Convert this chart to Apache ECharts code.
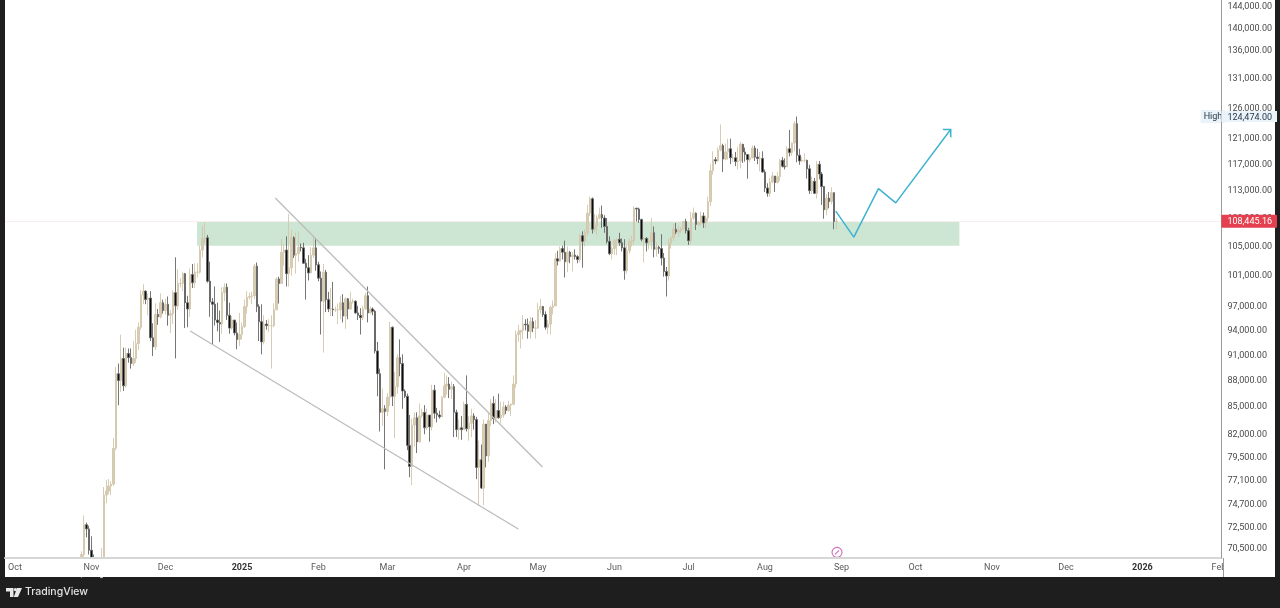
<!DOCTYPE html>
<html><head><meta charset="utf-8">
<style>html,body{margin:0;padding:0;background:#1e1e1e}#c{width:1280px;height:608px}</style>
<script src="https://cdn.jsdelivr.net/npm/echarts@6/dist/echarts.min.js"></script>
</head><body><div id="c"></div>
<script>
// Daily candles in thousands of USD: [open, close, low, high]
const oct24=[[68.0,69.9,67.8,70.2],[69.9,72.7,69.5,73.6],[72.7,72.3,71.5,72.9],[72.3,70.3,69.9,72.6]];
const nov24=[[70.3,69.5,68.8,71.6],[69.5,69.3,68.9,69.9],[69.3,68.7,67.8,69.4],[68.7,67.8,67.8,69.4],[67.8,69.3,67.8,70.5],[69.3,75.6,68.8,76.4],[75.6,76.0,74.8,77.1],[76.0,76.5,75.7,77.2],[76.5,76.7,75.6,77.0],[76.7,80.4,76.5,81.5],[80.4,88.7,80.2,89.5],[88.7,87.9,85.1,89.9],[87.9,90.5,86.6,93.4],[90.5,87.3,86.7,91.8],[87.3,91.1,87.1,91.8],[91.1,90.6,90.0,91.7],[90.6,89.9,89.3,91.7],[89.9,90.5,89.6,92.6],[90.5,92.3,90.0,94.0],[92.3,94.3,91.5,94.9],[94.3,98.4,94.0,99.0],[98.4,98.9,97.2,99.8],[98.9,97.8,97.2,99.0],[97.8,98.0,95.8,98.6],[98.0,93.0,92.6,98.9],[93.0,91.9,90.8,94.8],[91.9,95.9,91.5,97.3],[95.9,95.6,94.6,96.6],[95.6,97.4,95.4,98.6],[97.4,96.4,96.0,97.8]];
const dec24=[[96.4,97.2,95.9,97.9],[97.2,95.8,94.5,98.2],[95.8,96.0,93.6,96.5],[96.0,98.7,94.7,99.0],[98.7,97.0,90.5,103.4],[97.0,99.9,96.5,101.8],[99.9,99.9,99.4,100.6],[99.9,101.2,98.9,101.4],[101.2,97.4,94.2,101.3],[97.4,96.6,94.3,98.3],[96.6,101.1,95.6,101.9],[101.1,100.0,99.3,102.5],[100.0,101.4,99.3,102.6],[101.4,101.4,100.7,102.6],[101.4,104.4,101.2,105.0],[104.4,106.0,103.4,107.8],[106.0,106.1,105.3,108.3],[106.1,100.2,100.0,106.5],[100.2,97.5,95.6,102.8],[97.5,97.2,92.2,98.0],[97.2,95.2,94.5,99.5],[95.2,94.9,93.8,97.4],[94.9,94.7,92.5,96.4],[94.7,98.7,93.5,99.4],[98.7,99.4,97.6,99.9],[99.4,95.8,95.2,99.9],[95.8,94.2,93.5,97.4],[94.2,95.2,94.0,95.7],[95.2,93.6,93.3,95.2],[93.6,92.8,91.6,94.9],[92.8,93.4,92.0,96.1]];
const jan25=[[93.4,94.4,92.8,94.9],[94.4,96.9,94.2,97.8],[96.9,98.1,96.0,98.9],[98.1,98.2,97.8,98.7],[98.2,98.3,97.2,98.8],[98.3,102.2,97.9,102.5],[102.2,96.9,96.2,102.7],[96.9,95.0,92.6,97.2],[95.0,92.5,91.0,97.2],[92.5,94.7,92.2,95.8],[94.7,94.5,94.0,95.2],[94.5,94.5,93.7,95.3],[94.5,94.5,89.3,95.8],[94.5,96.5,94.3,97.3],[96.5,100.5,96.5,100.7],[100.5,99.9,97.3,100.8],[99.9,104.1,99.9,105.9],[104.1,104.4,102.3,105.2],[104.4,101.2,99.5,106.3],[101.2,102.0,99.5,109.5],[102.0,106.1,100.9,107.2],[106.1,103.7,103.3,106.3],[103.7,103.9,101.2,106.8],[103.9,104.8,102.8,107.0],[104.8,104.7,104.2,105.3],[104.7,102.6,102.5,105.4],[102.6,102.0,97.8,103.2],[102.0,101.3,100.3,103.7],[101.3,103.7,101.3,104.8],[103.7,104.7,103.3,106.4],[104.7,102.4,101.6,106.0]];
const feb25=[[102.4,100.6,100.2,102.8],[100.6,97.6,93.4,101.5],[97.6,101.4,91.2,102.5],[101.4,97.8,96.2,101.7],[97.8,96.6,96.2,98.8],[96.6,96.6,95.7,99.3],[96.6,96.5,95.7,100.1],[96.5,96.5,96.2,96.9],[96.5,96.5,94.7,97.3],[96.5,97.4,95.3,98.3],[97.4,95.7,94.9,98.5],[95.7,97.9,94.1,98.1],[97.9,96.6,95.3,98.0],[96.6,97.5,96.5,98.8],[97.5,97.6,97.3,97.9],[97.6,96.1,96.0,97.7],[96.1,95.8,95.2,97.0],[95.8,95.5,93.4,96.7],[95.5,96.6,95.2,97.0],[96.6,98.3,96.5,98.7],[98.3,96.1,94.9,99.5],[96.1,96.6,96.0,96.9],[96.6,96.3,95.8,96.8],[96.3,91.4,91.1,96.5],[91.4,88.7,86.1,92.5],[88.7,84.3,82.2,89.3],[84.3,84.7,82.8,87.0],[84.7,84.4,78.2,85.1]];
const mar25=[[84.4,86.0,83.9,86.5],[86.0,94.3,85.0,95.0],[94.3,86.1,85.0,94.4],[86.1,87.2,81.5,88.9],[87.2,90.6,86.4,91.0],[90.6,89.9,88.4,92.8],[89.9,86.7,84.7,91.0],[86.7,86.1,85.9,86.9],[86.1,80.7,80.2,86.4],[80.7,78.5,77.4,84.0],[78.5,82.9,76.6,83.6],[82.9,83.7,80.6,84.3],[83.7,81.1,79.9,84.3],[81.1,83.9,81.0,85.3],[83.9,84.3,83.7,84.7],[84.3,82.6,81.9,85.1],[82.6,84.0,82.4,84.7],[84.0,82.7,81.1,84.0],[82.7,86.8,82.3,87.4],[86.8,84.2,83.6,87.4],[84.2,84.0,83.2,84.8],[84.0,83.8,83.6,84.5],[83.8,86.0,83.8,86.1],[86.0,87.3,85.9,88.8],[87.3,87.5,86.3,88.5],[87.5,86.9,85.9,88.3],[86.9,87.2,85.8,87.8],[87.2,84.3,81.6,87.5],[84.3,82.4,81.6,84.6],[82.4,82.6,81.3,83.5],[82.6,82.4,81.3,83.9]];
const apr25=[[82.4,85.2,82.4,85.5],[85.2,82.5,82.2,88.5],[82.5,83.1,81.2,83.9],[83.1,83.9,81.6,84.7],[83.9,83.5,82.4,84.2],[83.5,78.4,77.2,83.8],[78.4,79.2,74.5,81.2],[79.2,76.3,76.2,80.8],[76.3,83.0,74.6,83.5],[83.0,79.6,78.4,83.0],[79.6,83.4,79.0,84.2],[83.4,85.3,82.8,85.8],[85.3,83.6,83.0,86.1],[83.6,84.5,83.2,85.8],[84.5,83.7,83.6,86.4],[83.7,84.0,83.1,85.5],[84.0,84.9,83.7,85.5],[84.9,84.5,84.1,85.1],[84.5,85.1,84.4,85.6],[85.1,85.2,83.9,85.3],[85.2,87.5,85.1,88.5],[87.5,93.4,87.1,93.9],[93.4,93.7,92.5,94.6],[93.7,93.9,91.7,94.0],[93.9,94.7,92.8,95.8],[94.7,94.6,93.9,95.3],[94.6,93.8,92.9,95.4],[93.8,95.0,92.9,95.6],[95.0,94.2,93.7,95.5],[94.2,94.2,92.9,95.2]];
const may25=[[94.2,96.5,94.1,97.4],[96.5,96.9,96.0,97.9],[96.9,95.9,95.6,97.0],[95.9,94.3,94.0,96.3],[94.3,94.7,93.5,95.2],[94.7,96.8,93.4,97.0],[96.8,97.0,95.9,97.7],[97.0,103.2,97.0,104.0],[103.2,102.9,102.3,104.3],[102.9,104.6,102.8,104.9],[104.6,104.1,103.1,105.0],[104.1,102.8,100.7,105.7],[102.8,104.1,101.4,104.9],[104.1,103.5,102.6,104.3],[103.5,103.7,101.5,104.1],[103.7,103.5,103.1,104.5],[103.5,103.1,102.6,103.7],[103.1,106.4,102.7,106.6],[106.4,105.6,102.0,107.0],[105.6,106.8,104.9,107.3],[106.8,109.6,106.3,110.8],[109.6,111.7,109.2,112.0],[111.7,107.3,106.7,111.9],[107.3,107.8,106.9,109.5],[107.8,108.9,106.5,109.3],[108.9,109.4,108.7,110.4],[109.4,108.9,107.5,110.7],[108.9,107.7,106.8,109.3],[107.7,105.6,105.3,108.9],[105.6,103.9,103.7,106.3],[103.9,104.6,103.1,104.9]];
const jun25=[[104.6,105.7,103.7,105.9],[105.7,105.9,103.7,106.0],[105.9,105.4,105.0,106.8],[105.4,104.7,104.2,106.0],[104.7,101.6,100.4,105.9],[101.6,104.3,101.2,105.0],[104.3,105.6,103.9,106.0],[105.6,105.7,104.9,106.4],[105.7,110.3,105.1,110.6],[110.3,110.2,108.4,110.4],[110.2,108.7,108.2,110.4],[108.7,105.9,105.6,108.8],[105.9,106.0,102.7,106.2],[106.0,105.4,104.2,106.2],[105.4,105.6,104.5,106.1],[105.6,106.8,104.5,108.9],[106.8,104.5,103.4,107.7],[104.5,104.8,103.5,105.5],[104.8,104.6,103.9,105.0],[104.6,103.3,102.3,106.6],[103.3,101.5,100.8,104.0],[101.5,100.9,98.2,102.1],[100.9,105.4,100.3,106.0],[105.4,106.1,104.6,106.3],[106.1,107.3,105.6,108.1],[107.3,106.9,106.6,108.2],[106.9,107.1,106.2,107.8],[107.1,107.3,106.8,107.6],[107.3,108.4,107.2,108.5],[108.4,107.1,106.7,108.8]];
const jul25=[[107.1,105.7,105.1,107.5],[105.7,108.9,105.2,109.8],[108.9,109.6,108.6,110.4],[109.6,108.0,107.2,109.7],[108.0,108.2,107.8,108.5],[108.2,109.2,107.8,109.8],[109.2,108.2,107.5,109.7],[108.2,108.9,107.5,109.2],[108.9,111.3,108.4,112.0],[111.3,115.9,110.6,116.9],[115.9,117.6,115.3,118.9],[117.6,117.4,116.9,118.0],[117.4,119.1,117.3,119.5],[119.1,119.8,118.9,123.2],[119.8,117.7,115.7,120.1],[117.7,118.8,117.5,120.1],[118.8,119.3,117.6,120.9],[119.3,117.9,116.9,120.9],[117.9,117.9,117.3,118.5],[117.9,117.3,116.6,118.8],[117.3,117.4,116.1,119.6],[117.4,120.0,116.3,120.4],[120.0,118.8,117.1,120.1],[118.8,118.4,117.3,119.5],[118.4,117.6,114.7,118.5],[117.6,117.9,117.2,118.4],[117.9,119.4,117.8,119.8],[119.4,118.0,117.4,119.8],[118.0,117.8,116.9,119.3],[117.8,117.8,115.8,118.8],[117.8,115.7,115.6,118.9]];
const aug25=[[115.7,113.3,112.7,116.1],[113.3,112.5,112.0,114.0],[112.5,114.2,112.0,114.8],[114.2,115.1,114.0,115.7],[115.1,114.1,112.7,115.1],[114.1,115.0,114.0,115.7],[115.0,117.5,114.3,117.7],[117.5,116.6,116.4,118.0],[116.6,116.5,116.1,117.8],[116.5,119.3,116.5,119.7],[119.3,118.7,118.1,122.3],[118.7,120.2,118.2,120.3],[120.2,123.3,118.9,123.7],[123.3,118.3,117.2,124.474],[118.3,117.4,116.8,119.3],[117.4,117.5,117.2,118.0],[117.5,117.5,117.2,118.6],[117.5,116.2,114.7,117.6],[116.2,112.9,112.4,116.8],[112.9,114.3,112.4,115.0],[114.3,112.5,112.4,114.8],[112.5,116.9,111.7,117.4],[116.9,115.4,114.6,117.4],[115.4,113.5,110.8,115.7],[113.5,110.1,108.8,113.6],[110.1,111.8,109.3,112.4],[111.8,111.3,110.3,112.7],[111.3,112.6,110.9,113.4],[112.6,108.4,107.3,112.6],[108.4,108.445,107.3,108.9]];
const monthStarts=[[2024,9,28,oct24],[2024,10,1,nov24],[2024,11,1,dec24],[2025,0,1,jan25],[2025,1,1,feb25],[2025,2,1,mar25],[2025,3,1,apr25],[2025,4,1,may25],[2025,5,1,jun25],[2025,6,1,jul25],[2025,7,1,aug25]];

const xTickDates=[[2024,9,1],[2024,10,1],[2024,11,1],[2025,0,1],[2025,1,1],[2025,2,1],[2025,3,1],[2025,4,1],[2025,5,1],[2025,6,1],[2025,7,1],[2025,8,1],[2025,9,1],[2025,10,1],[2025,11,1],[2026,0,1],[2026,1,1]];
const xTickLabels=['Oct','Nov','Dec','2025','Feb','Mar','Apr','May','Jun','Jul','Aug','Sep','Oct','Nov','Dec','2026','Feb'];
const yTicks=[144000,140000,136000,131000,126000,121000,117000,113000,105000,101000,97000,94000,91000,88000,85000,82000,79500,77100,74700,72500,70500,109000,124474,108445.16];
const highPrice=124474, lastPrice=108445.16;

const zoneStart=[2024,11,13.8], zoneEnd=[2025,9,18.8], zoneTop=108400, zoneBottom=105000;
const upperTrend=[[[2025,0,14.5],111800],[[2025,4,2.8],78450]];
const lowerTrend=[[[2024,11,11],93840],[[2025,3,23],72290]];
const forecast=[[[2025,7,29.7],109900],[[2025,8,6],106200],[[2025,8,16],113200],[[2025,8,23],111100],[[2025,9,15.1],122300]];

const DAY=864e5, t=d=>Date.UTC(d[0],d[1],1)+(d[2]-1)*DAY;
const candles=[];
monthStarts.forEach(([y,m,start,rows])=>rows.forEach((r,i)=>candles.push([t([y,m,start+i]),r[0]*1000,r[1]*1000,r[2]*1000,r[3]*1000])));
const xTickValues=xTickDates.map(t);
const fmt=v=>v.toLocaleString('en-US',{minimumFractionDigits:2,maximumFractionDigits:2});
const lineData=a=>a.map(p=>[t(p[0]),p[1]]);
const FONT='Roboto';
const trend=(name,data)=>({type:'line',name,data:lineData(data),symbol:'none',silent:true,z:3,lineStyle:{color:'#bcbcbc',width:1.3},animation:false});

const chart=echarts.init(document.getElementById('c'),null,{renderer:'canvas'});
chart.setOption({
  animation:false,
  backgroundColor:'#1e1e1e',
  grid:{left:5,right:57,top:0,bottom:50,show:false},
  xAxis:{type:'value',scale:true,min:t([2024,9,1])-4.05*DAY,max:t([2024,9,1])+489*DAY,z:5,
    axisLine:{show:true,onZero:false,lineStyle:{color:'#d6d6d6',width:2}},axisTick:{show:false},splitLine:{show:false},
    axisLabel:{customValues:xTickValues,margin:5,hideOverlap:false,showMinLabel:true,showMaxLabel:true,
      fontFamily:FONT,fontSize:9,color:'#5a5a5a',
      formatter:v=>{const i=xTickValues.indexOf(v),s=xTickLabels[i];return /^20/.test(s)?'{y|'+s+'}':s;},
      rich:{y:{fontFamily:FONT,fontSize:9,fontWeight:'bold',color:'#333'}}}},
  yAxis:{type:'log',position:'right',min:69578,max:145140,z:8,
    axisLine:{show:true,onZero:false,lineStyle:{color:'#9a9a9a',width:1}},axisTick:{show:false},splitLine:{show:false},minorTick:{show:false},
    axisLabel:{customValues:yTicks,margin:0,hideOverlap:false,showMinLabel:true,showMaxLabel:true,
      fontFamily:FONT,fontSize:9,color:'#4a4a4a',
      formatter:v=>v===lastPrice?'{last|'+fmt(v)+'}':v===highPrice?'{hi|'+fmt(v)+'}':'{n|'+fmt(v)+'}',
      rich:{n:{fontFamily:FONT,fontSize:9,color:'#4a4a4a',padding:[2,0,0,6]},
        hi:{fontFamily:FONT,fontSize:9,color:'#26384a',backgroundColor:'#eaf2fa',padding:[2,5,0,6]},
        last:{fontFamily:FONT,fontSize:9,color:'#fff',backgroundColor:'#e5404f',padding:[3,5,1,6],borderRadius:1}}}},
  series:[
    {type:'candlestick',name:'BTCUSD',data:candles,encode:{x:0,y:[1,2,3,4]},barWidth:2,z:2,silent:true,
      itemStyle:{color:'#d8ccb2',color0:'#0c0c0c',borderColor:'#d2c6ab',borderColor0:'#666666',borderWidth:0.9},
      markArea:{silent:true,itemStyle:{color:'#cde6d3',opacity:1},
        data:[[{coord:[t(zoneStart),zoneTop]},{coord:[t(zoneEnd),zoneBottom]}]]},
      markLine:{silent:true,symbol:'none',label:{show:false},lineStyle:{color:'#f8eeee',type:'solid',width:1},z:1,
        data:[{yAxis:lastPrice}]},
      markPoint:{silent:true,data:[
        {coord:[t([2026,0,29.6]),highPrice],symbol:'rect',symbolSize:0,
         label:{show:true,position:'inside',formatter:'High',fontFamily:FONT,fontSize:9,color:'#26384a',backgroundColor:'#eaf2fa',padding:[2,3]}},
        {coord:[t([2025,7,30.2]),70100],symbol:'path://M5 0A5 5 0 1 1 4.99 0M3 7L7 3',symbolSize:10,
         itemStyle:{color:'none',borderColor:'#cf6fb5',borderWidth:1.1},label:{show:false}}
      ]}},
    trend('upper',upperTrend),
    trend('lower',lowerTrend),
    {type:'line',name:'forecast',data:lineData(forecast),symbol:'none',silent:true,z:4,lineStyle:{color:'#3fb2cf',width:1.5},
      markPoint:{silent:true,data:[{coord:[t(forecast[4][0]),forecast[4][1]],symbol:'path://M0 5L5 0L10 5',symbolSize:[11,5.5],symbolRotate:-45,symbolOffset:[-1.5,1.5],
        itemStyle:{color:'none',borderColor:'#3fb2cf',borderWidth:1.4},label:{show:false}}]}}
  ],
  graphic:[
    {type:'rect',silent:true,z:-10,shape:{x:5,y:0,width:1270,height:577},style:{fill:'#fff'}},
    {type:'rect',silent:true,z:4.5,shape:{x:5,y:559,width:1270,height:18},style:{fill:'#fff'}},
    {type:'rect',silent:true,z:6,shape:{x:1223,y:559,width:52,height:18},style:{fill:'#fff'}},
    {type:'rect',silent:true,z:7,shape:{x:1223,y:558,width:1,height:19},style:{fill:'#9a9a9a'}},
    {type:'polygon',silent:true,z:7,shape:{points:[[6,588],[13.5,588],[13.5,597],[10,597],[10,591.6],[6,591.6]]},style:{fill:'#e8e8e8'}},
    {type:'polygon',silent:true,z:7,shape:{points:[[17,588],[22,588],[18,597],[13.8,597]]},style:{fill:'#e8e8e8'}},
    {type:'circle',silent:true,z:7,shape:{cx:15.4,cy:589.6,r:1.6},style:{fill:'#e8e8e8'}},
    {type:'text',silent:true,z:7,x:25,y:586,style:{text:'TradingView',fontFamily:'Inter',fontSize:10.5,fontWeight:500,fill:'#e2e2e2'}}
  ]
});
</script></body></html>
